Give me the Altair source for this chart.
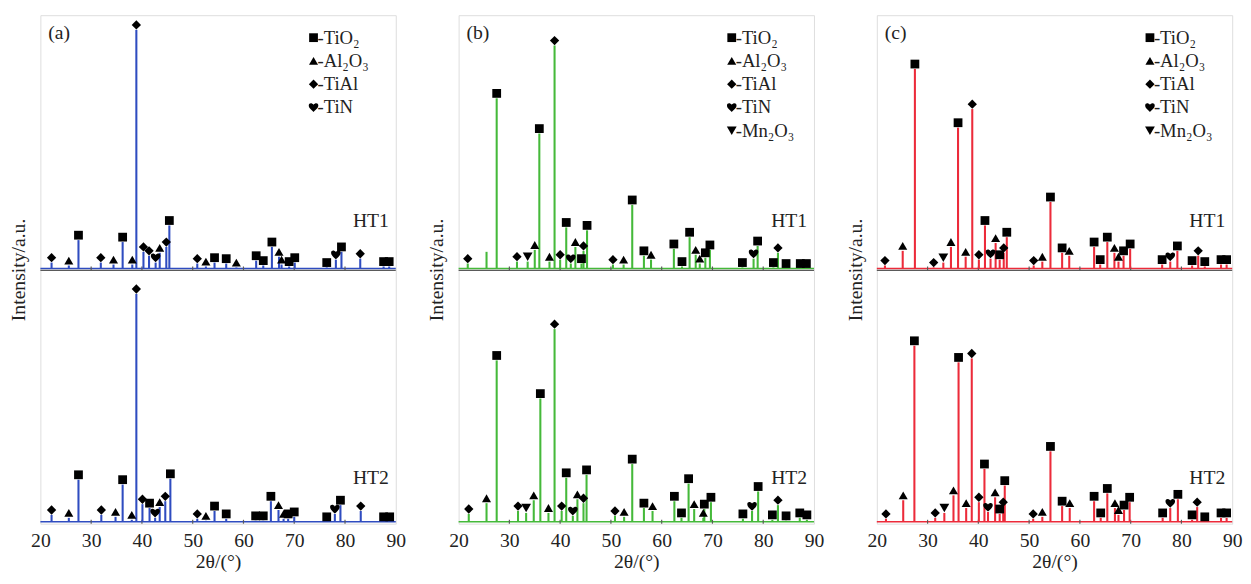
import altair as alt
import pandas as pd

# ---------------- data (peak position 2θ, peak height a.u., phase marker) ----------------
# phases: T=TiO2, A=Al2O3, D=TiAl, N=TiN, M=Mn2O3, ""=no marker
A1_pos = [22.2, 25.6, 27.5, 31.9, 34.4, 36.2, 38.1, 38.9, 40.3, 41.4, 42.7, 43.5, 44.8, 45.4, 50.9, 52.6,
          54.3, 56.6, 58.6, 62.5, 63.9, 65.6, 67.0, 67.5, 69.0, 70.1, 76.4, 78.2, 79.3, 83.0, 87.6, 88.7]
A1_h = [6, 3, 29, 6, 4, 27, 4, 244, 17, 13, 6, 16, 22, 44, 5, 2, 6, 5, 1, 8, 3, 22, 12, 4, 2, 6, 1, 9, 17, 10, 2, 2]
A1_ph = ["D", "A", "T", "D", "A", "T", "A", "D", "D", "D", "N", "A", "D", "T", "D", "A",
         "T", "T", "A", "T", "T", "T", "A", "A", "T", "T", "T", "N", "T", "D", "T", "T"]

A2_pos = [22.2, 25.6, 27.5, 32.0, 34.8, 36.2, 38.0, 38.9, 40.1, 41.5, 42.6, 43.5, 44.6, 45.6, 50.9, 52.6,
          54.3, 56.6, 62.4, 63.9, 65.4, 66.9, 67.9, 68.8, 70.0, 76.4, 78.0, 79.1, 83.1, 87.6, 88.8]
A2_h = [7, 4, 43, 7, 5, 38, 2, 233, 18, 14, 4, 15, 21, 44, 3, 1, 11, 3, 1, 1, 21, 12, 3, 3, 5, 0, 8, 17, 11, 0, 0]
A2_ph = ["D", "A", "T", "D", "A", "T", "A", "D", "D", "T", "N", "A", "D", "T", "D", "A",
         "T", "T", "T", "T", "T", "A", "A", "T", "T", "T", "N", "T", "D", "T", "T"]

B1_pos = [21.8, 25.5, 27.5, 31.5, 33.6, 35.0, 35.9, 37.9, 38.9, 40.0, 41.2, 42.1, 43.0, 44.2, 44.6, 45.3,
          50.4, 52.5, 54.2, 56.5, 57.9, 62.4, 64.0, 65.5, 66.7, 67.5, 68.6, 69.5, 75.9, 78.1, 78.9, 82.0,
          82.9, 84.5, 87.3, 88.5]
B1_h = [5, 17, 174, 7, 7, 19, 138, 7, 228, 9, 42, 5, 22, 5, 18, 39, 4, 4, 65, 13, 9, 20, 2, 32, 14, 5,
        11, 19, 1, 10, 23, 1, 16, 0, 0, 0]
B1_ph = ["D", "", "T", "D", "M", "A", "T", "A", "D", "D", "T", "N", "A", "T", "D", "T",
         "D", "A", "T", "T", "A", "T", "T", "T", "A", "A", "T", "T", "T", "N", "T", "T",
         "D", "T", "T", "T"]

B2_pos = [22.0, 25.5, 27.5, 31.7, 33.3, 34.8, 36.1, 37.7, 38.9, 40.3, 41.2, 42.5, 43.4, 44.6, 45.2, 50.8,
          52.6, 54.2, 56.5, 58.2, 62.5, 63.9, 65.3, 66.4, 68.2, 68.4, 69.7, 76.0, 77.8, 79.0, 81.8, 82.9,
          84.5, 87.2, 88.6]
B2_h = [8, 19, 165, 11, 9, 22, 126, 9, 197, 11, 45, 6, 23, 19, 48, 6, 5, 59, 14, 11, 21, 4, 39, 13, 4,
        13, 20, 3, 11, 31, 2, 17, 1, 4, 2]
B2_ph = ["D", "A", "T", "D", "M", "A", "T", "A", "D", "D", "T", "N", "A", "D", "T", "D",
         "A", "T", "T", "A", "T", "T", "T", "A", "A", "T", "T", "T", "N", "T", "T", "D",
         "T", "T", "T"]

C1_pos = [21.6, 25.1, 27.5, 31.2, 33.1, 34.6, 36.0, 37.5, 38.8, 40.1, 41.3, 42.4, 43.4, 44.2, 45.0, 45.6,
          50.9, 52.6, 54.2, 56.5, 57.9, 62.8, 64.0, 65.4, 66.8, 67.6, 68.6, 69.9, 76.2, 77.8, 79.2, 82.1,
          83.3, 84.6, 87.8, 88.9]
C1_h = [3, 18, 204, 1, 6, 22, 144, 12, 163, 9, 44, 10, 26, 9, 16, 32, 3, 7, 68, 16, 13, 22, 4, 27, 16,
        7, 13, 20, 4, 7, 18, 3, 13, 2, 4, 4]
C1_ph = ["D", "A", "T", "D", "M", "A", "T", "A", "D", "D", "T", "N", "A", "T", "D", "T",
         "D", "A", "T", "T", "A", "T", "T", "T", "A", "A", "T", "T", "T", "N", "T", "T",
         "D", "T", "T", "T"]

C2_pos = [21.8, 25.2, 27.4, 31.5, 33.3, 35.1, 36.1, 37.6, 38.7, 40.1, 41.2, 41.9, 43.3, 44.2, 44.9, 45.2,
          50.8, 52.6, 54.2, 56.5, 58.0, 62.8, 64.1, 65.4, 66.9, 67.6, 68.7, 69.8, 76.3, 77.8, 79.3, 82.1,
          83.1, 84.6, 87.8, 88.9]
C2_h = [3, 22, 180, 4, 9, 27, 163, 14, 167, 20, 54, 10, 25, 8, 15, 37, 3, 5, 72, 16, 14, 21, 4, 29, 14,
        7, 12, 20, 4, 14, 23, 2, 15, 0, 4, 4]
C2_ph = ["D", "A", "T", "D", "M", "A", "T", "A", "D", "D", "T", "N", "A", "T", "D", "T",
         "D", "A", "T", "T", "A", "T", "T", "T", "A", "A", "T", "T", "T", "N", "T", "T",
         "D", "T", "T", "T"]

phase_codes = ["T", "A", "D", "N", "M"]
phase_labels = ["-TiO₂", "-Al₂O₃", "-TiAl", "-TiN", "-Mn₂O₃"]
x_ticks = [20, 30, 40, 50, 60, 70, 80, 90]
inner_ticks = [30, 40, 50, 60, 70, 80]

# ---------------- styling ----------------
FONT = "Liberation Serif, Times New Roman, DejaVu Serif, serif"
FRAME = "#5a5a5a"
TEXT = "#222222"
HEART = ("M0,0.95 C-0.35,0.6 -1,0.15 -1,-0.4 C-1,-0.95 -0.35,-1.05 0,-0.55 "
         "C0.35,-1.05 1,-0.95 1,-0.4 C1,0.15 0.35,0.6 0,0.95 Z")
SHAPE_RANGE = ["square", "triangle-up", "diamond", HEART, "triangle-down"]
SIZE_RANGE = [80, 100, 115, 100, 100]
LEG_SIZE_RANGE = [50, 62, 72, 62, 62]

HT1_BASE = 261
HT2_BASE = 2
DIVIDER = 259
YMAX = 520
PW = 362
PH = 518


def panel(letter, color, ht1, ht2, n_legend, width):
    rows = []
    for trace, (pos, hs, phs), base in (("HT1", ht1, HT1_BASE), ("HT2", ht2, HT2_BASE)):
        for p, h, s in zip(pos, hs, phs):
            rows.append({"trace": trace, "pos": p, "base": base, "top": base + h, "phase": s})
    df = pd.DataFrame(rows)

    xs = alt.Scale(domain=[20, 90], nice=False, zero=False)
    ys = alt.Scale(domain=[0, YMAX], nice=False, zero=False)

    x_axis = alt.Axis(values=x_ticks, ticks=False, grid=False, domain=False, labelFlush=False,
                      labelOverlap=False, labelFont=FONT, labelFontSize=20, labelColor=TEXT,
                      labelPadding=7, title="2θ/(°)", titleFont=FONT, titleFontSize=20,
                      titleFontWeight="normal", titleColor=TEXT, titlePadding=2)
    y_axis = alt.Axis(labels=False, ticks=False, grid=False, domain=False, title="Intensity/a.u.",
                      titleFont=FONT, titleFontSize=20, titleFontWeight="normal", titleColor=TEXT,
                      titlePadding=12)

    base_df = pd.DataFrame({"trace": ["HT1", "HT2"], "base": [HT1_BASE, HT2_BASE]})
    baselines = alt.Chart(base_df).mark_rule(color=color, strokeWidth=1.6).encode(
        x=alt.datum(20, scale=xs), x2=alt.datum(90),
        y=alt.Y("base:Q", scale=ys, axis=y_axis))

    divider = alt.Chart(pd.DataFrame({"d": [DIVIDER]})).mark_rule(color=FRAME, strokeWidth=1.2).encode(
        x=alt.datum(20, scale=xs), x2=alt.datum(90), y=alt.Y("d:Q", scale=ys))

    tick_rows = [{"t": t, "y0": y0, "y1": y0 + 4} for t in inner_ticks for y0 in (0, DIVIDER)]
    ticks = alt.Chart(pd.DataFrame(tick_rows)).mark_rule(color=FRAME, strokeWidth=1.2).encode(
        x=alt.X("t:Q", scale=xs), y=alt.Y("y0:Q", scale=ys), y2="y1:Q")

    peaks = alt.Chart(df).mark_rule(color=color, strokeWidth=2.1).encode(
        x=alt.X("pos:Q", scale=xs, axis=x_axis),
        y=alt.Y("base:Q", scale=ys), y2="top:Q")

    markers = alt.Chart(df).transform_filter("datum.phase != ''").mark_point(
        filled=True, color="black", opacity=1, yOffset=-5, strokeWidth=0).encode(
        x=alt.X("pos:Q", scale=xs),
        y=alt.Y("top:Q", scale=ys),
        shape=alt.Shape("phase:N", scale=alt.Scale(domain=phase_codes, range=SHAPE_RANGE), legend=None),
        size=alt.Size("phase:N", scale=alt.Scale(domain=phase_codes, range=SIZE_RANGE), legend=None))

    leg_df = pd.DataFrame({"phase": phase_codes[:n_legend], "label": phase_labels[:n_legend],
                           "idx": list(range(n_legend))})
    ly = f"{YMAX - 23} - 23.8 * datum.idx"
    leg_sym = alt.Chart(leg_df).transform_calculate(ly=ly).mark_point(
        filled=True, color="black", opacity=1, strokeWidth=0).encode(
        x=alt.datum(73.8, scale=xs),
        y=alt.Y("ly:Q", scale=ys),
        shape=alt.Shape("phase:N", scale=alt.Scale(domain=phase_codes, range=SHAPE_RANGE), legend=None),
        size=alt.Size("phase:N", scale=alt.Scale(domain=phase_codes, range=LEG_SIZE_RANGE), legend=None))
    leg_txt = alt.Chart(leg_df).transform_calculate(ly=ly).mark_text(
        align="left", baseline="middle", dx=4, font=FONT, fontSize=19, color=TEXT).encode(
        x=alt.datum(73.8, scale=xs), y=alt.Y("ly:Q", scale=ys), text="label:N")

    lab_df = pd.DataFrame({"lab": [f"({letter})"]})
    letter_txt = alt.Chart(lab_df).mark_text(align="left", baseline="middle", font=FONT, fontSize=20,
                                             color=TEXT).encode(
        x=alt.value(8), y=alt.value(18), text="lab:N")
    ht_df = pd.DataFrame({"lab": ["HT1", "HT2"], "py": [210, 472]})
    ht_txt = alt.Chart(ht_df).mark_text(align="right", baseline="middle", font=FONT, fontSize=20,
                                        color=TEXT).encode(
        x=alt.value(width - 7), y=alt.Y("py:Q", scale=None), text="lab:N")

    return alt.layer(baselines, divider, ticks, peaks, markers, leg_sym, leg_txt, letter_txt,
                     ht_txt).properties(width=width, height=PH)


pa = panel("a", "#2f4cc0", (A1_pos, A1_h, A1_ph), (A2_pos, A2_h, A2_ph), 4, PW)
pb = panel("b", "#45b93a", (B1_pos, B1_h, B1_ph), (B2_pos, B2_h, B2_ph), 5, PW)
pc = panel("c", "#ec2b3a", (C1_pos, C1_h, C1_ph), (C2_pos, C2_h, C2_ph), 5, PW)

chart = alt.hconcat(pa, pb, pc, spacing=20).properties(
    padding={"left": 0, "top": 1, "right": 0, "bottom": 0}
).configure_view(stroke=FRAME, strokeWidth=1.2).configure(background="white")

chart.save("out.html", embed_options={"renderer": "svg", "actions": False})
